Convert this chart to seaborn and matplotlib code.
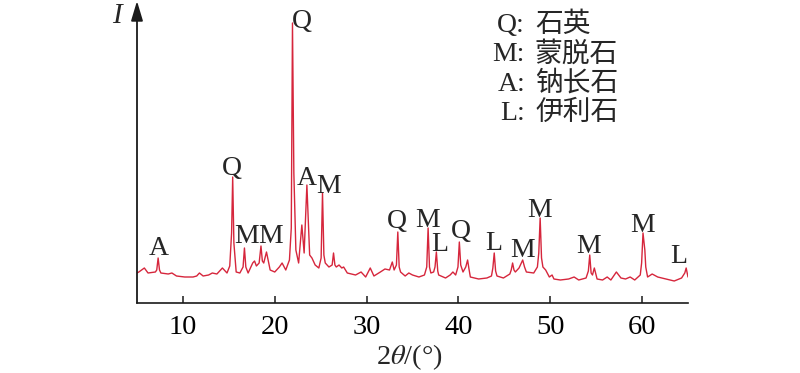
import matplotlib
matplotlib.use("Agg")
import matplotlib.pyplot as plt
import seaborn as sns
import pandas as pd

# XRD pattern (2theta in degrees, intensity in a.u.)
two_theta = [
    5.0, 5.2, 5.5, 5.8, 6.2, 7.0, 7.15, 7.3, 7.45, 7.6, 8.4, 8.8, 9.3, 10.2,
    11.1, 11.5, 11.8, 12.2, 12.8, 13.2, 13.7, 14.3, 14.8, 15.1, 15.3, 15.42,
    15.55, 15.8, 16.2, 16.55, 16.7, 16.85, 17.1, 17.6, 17.8, 18.0, 18.3, 18.5,
    18.65, 18.8, 19.1, 19.5, 20.0, 20.5, 20.8, 21.2, 21.6, 21.8, 21.93, 22.08,
    22.3, 22.6, 22.95, 23.2, 23.5, 23.8, 24.05, 24.4, 24.8, 25.05, 25.2, 25.35,
    25.5, 25.9, 26.25, 26.4, 26.55, 26.7, 27.0, 27.3, 27.5, 27.9, 28.8, 29.4,
    29.9, 30.4, 30.8, 31.5, 32.0, 32.5, 32.8, 33.0, 33.25, 33.4, 33.55, 33.7,
    34.2, 34.6, 35.0, 35.7, 36.3, 36.55, 36.7, 36.85, 37.0, 37.3, 37.45, 37.6,
    37.75, 37.85, 38.6, 39.1, 39.4, 39.7, 39.95, 40.1, 40.25, 40.5, 40.8, 41.0,
    41.15, 41.3, 42.2, 43.1, 43.6, 43.75, 43.9, 44.05, 44.2, 44.9, 45.6, 45.75,
    45.9, 46.05, 46.2, 46.6, 47.0, 47.2, 47.4, 48.2, 48.6, 48.75, 48.9, 49.05,
    49.2, 49.5, 49.9, 50.2, 50.4, 51.1, 52.0, 52.6, 53.1, 53.9, 54.15, 54.3,
    54.45, 54.6, 54.8, 55.1, 55.7, 56.2, 56.6, 57.2, 57.7, 58.2, 58.7, 59.2,
    59.8, 59.95, 60.1, 60.3, 60.4, 60.6, 61.1, 61.7, 62.6, 63.5, 64.3, 64.65,
    64.8, 65.0,
]
intensity = [
    30, 31, 33, 35, 30, 31, 33, 45, 33, 30, 29, 30, 27, 26,
    26, 27, 30, 27, 28, 30, 29, 35, 30, 37, 70, 126,
    60, 31, 30, 36, 55, 36, 30, 40, 42, 37, 40, 57,
    42, 40, 51, 33, 31, 36, 40, 33, 43, 75, 280, 130,
    53, 40, 78, 50, 118, 48, 45, 38, 35, 45, 110, 48,
    40, 36, 38, 50, 38, 36, 38, 35, 36, 30, 28, 31,
    26, 35, 27, 31, 34, 33, 41, 33, 38, 71, 36, 31,
    27, 30, 28, 26, 28, 36, 75, 36, 30, 31, 36, 51,
    32, 28, 25, 28, 31, 28, 36, 61, 38, 31, 36, 43,
    34, 26, 24, 25, 27, 35, 50, 32, 27, 25, 29, 33,
    40, 33, 31, 35, 43, 36, 31, 30, 36, 50, 85, 45,
    36, 33, 26, 28, 24, 23, 24, 26, 23, 25, 32, 48,
    30, 28, 35, 24, 23, 26, 23, 31, 25, 24, 26, 23,
    28, 40, 70, 53, 36, 26, 29, 26, 24, 22, 25, 30,
    35, 26,
]

# peak labels (mineral code, anchor 2theta, anchor intensity)
peak_labels = ["A", "Q", "M", "M", "Q", "A", "M", "Q", "M", "L", "Q", "L",
               "M", "M", "M", "M", "L"]
peak_x = [7.34, 15.36, 16.89, 19.5, 22.94, 23.43, 25.83, 33.35, 36.68, 37.92,
          40.22, 43.82, 46.98, 48.84, 54.18, 60.02, 64.0]
peak_y = [48, 128, 60, 60, 275, 118, 110, 75, 76, 52, 65, 53, 46, 86, 50, 71, 40]

legend_codes = ["Q:", "M:", "A:", "L:"]
legend_names = ["石英", "蒙脱石", "钠长石", "伊利石"]

xticks = [10, 20, 30, 40, 50, 60]

LINE_COLOR = "#d6263c"
AXIS_COLOR = "#1a1a1a"
FONTS = ["Liberation Serif", "Noto Sans CJK SC", "DejaVu Sans"]


def main():
    sns.set_style("white")
    plt.rcParams["font.family"] = FONTS
    plt.rcParams["mathtext.fontset"] = "stix"

    df = pd.DataFrame({"two_theta": two_theta, "intensity": intensity})

    fig = plt.figure(figsize=(8.0, 3.73), dpi=100)
    ax = fig.add_axes([137 / 800, 70 / 373, 551 / 800, 300 / 373])

    sns.lineplot(data=df, x="two_theta", y="intensity", ax=ax,
                 color=LINE_COLOR, linewidth=1.0, sort=False)

    ax.set_xlim(5, 65)
    ax.set_ylim(0, 300)
    ax.set_xticks(xticks)
    ax.set_xticklabels([str(t) for t in xticks])
    ax.set_yticks([])
    ax.set_xlabel("")
    ax.set_ylabel("")

    for side in ["top", "right", "left"]:
        ax.spines[side].set_visible(False)
    ax.spines["bottom"].set_color(AXIS_COLOR)
    ax.spines["bottom"].set_linewidth(1.2)
    ax.tick_params(axis="x", direction="in", length=5, width=1.1,
                   color=AXIS_COLOR, pad=9, labelsize=20.5, labelcolor="black",
                   bottom=True)

    # y axis drawn as an arrow
    ax.annotate("", xy=(5, 302), xytext=(5, 0),
                arrowprops=dict(arrowstyle="-|>,head_length=0.6,head_width=0.18",
                                color=AXIS_COLOR, lw=1.3, mutation_scale=20,
                                shrinkA=0, shrinkB=0),
                annotation_clip=False)
    ax.text(2.8, 280, "I", fontsize=21, style="italic", ha="center",
            va="baseline", clip_on=False)

    for lab, x, y in zip(peak_labels, peak_x, peak_y):
        ax.text(x, y, lab, fontsize=20, ha="center", va="baseline")

    # legend as plain text
    for i, (code, name) in enumerate(zip(legend_codes, legend_names)):
        yb = 1 - (32 + i * 29.3) / 373
        fig.text(525 / 800, yb, code, fontsize=20, ha="right", va="baseline")
        fig.text(535 / 800, yb, name, fontsize=20, ha="left", va="baseline")

    fig.text(409 / 800, 1 - 364 / 373, r"2$\theta$/(°)", fontsize=20.5,
             ha="center", va="baseline")

    fig.savefig("out.png", dpi=100)
    plt.close(fig)


if __name__ == "__main__":
    main()
